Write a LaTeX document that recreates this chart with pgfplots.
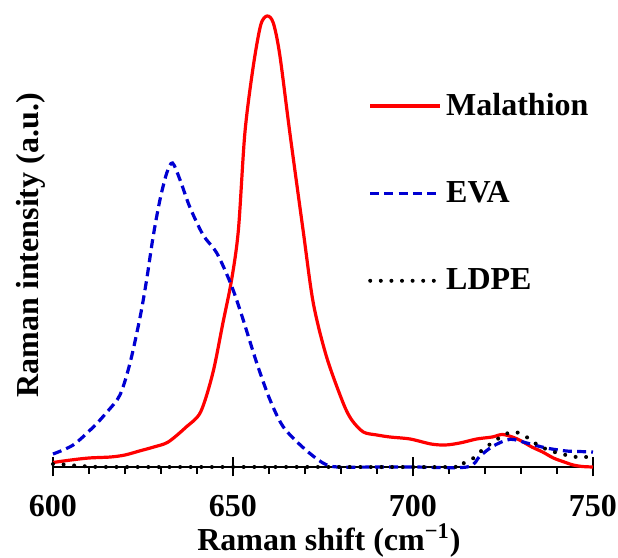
\documentclass[border=0pt]{standalone}
\usepackage{fontspec}
\setmainfont{Liberation Serif}
\usepackage{pgfplots}
\pgfplotsset{compat=1.18}
\definecolor{evablue}{RGB}{0,0,210}
\begin{document}
\begin{tikzpicture}
\begin{axis}[
  scale only axis,
  width=270pt, height=231pt,
  xmin=600, xmax=750, ymin=0, ymax=462,
  clip=false,
  axis x line*=bottom, axis y line*=left,
  y axis line style={draw=none},
  x axis line style={line width=0.8pt,-},
  ytick=\empty,
  xtick={600,650,700,750},
  minor x tick num=4,
  tick align=center,
  major tick length=9.5pt,
  minor tick length=3.5pt,
  major tick style={line width=0.8pt,black},
  minor tick style={line width=0.8pt,black,yshift=-1.75pt},
  xticklabel style={font=\fontsize{16}{19}\selectfont\bfseries, inner sep=0pt, yshift=-9pt},
  /pgf/number format/assume math mode=true,
  xlabel={Raman shift (cm\textsuperscript{\textminus 1})},
  ylabel={Raman intensity (a.u.)},
  xlabel style={font=\fontsize{16}{19}\selectfont\bfseries, at={(axis description cs:0.511,-0.121)}, anchor=north, inner sep=0pt},
  ylabel style={font=\fontsize{16}{19}\selectfont\bfseries, at={(axis description cs:-0.013,0.48)}, anchor=south, inner sep=0pt},
  legend style={draw=none, fill=none, at={(axis description cs:0.583,0.818)}, anchor=north west,
    font=\fontsize{16}{19}\selectfont\bfseries, row sep=27.5pt, inner sep=0pt},
  legend cell align=left,
  legend image code/.code={\draw[#1] (0pt,0pt) -- (35pt,0pt);},
]
\coordinate (O) at (rel axis cs:0,0);
\addplot[red, line width=1.6pt, smooth, tension=0.5] coordinates {
(600,4.5) (605,7) (610,9) (616,10) (620,12) (624,16) (628,20) (632,25) (637,40)
(641,55) (644.4,94) (647.2,144) (649.6,187) (651.5,237) (653.3,334) (655.6,400)
(657.7,442) (659.5,451) (661.2,444) (663,412) (665.8,334) (669.5,236) (672.3,164)
(676,110) (680.6,64) (683,47) (686.2,35) (690,32) (693.6,30) (699.2,28) (705,23)
(709,22) (713,24) (717.7,28) (722,30) (725,32.5) (729,28) (733,20) (736,15)
(739,9) (742,5) (744.5,2) (747,0.5) (750,0)
};
\addlegendentry{Malathion}
\addplot[evablue, line width=1.6pt, dash pattern=on 4.5pt off 2.6pt, smooth, tension=0.5] coordinates {
(600,13) (605.6,22) (611.2,40) (615,55) (618.6,72) (621.4,104) (624.2,150) (626,187)
(627.8,230) (629.7,267) (631.6,294) (633.2,304) (635.3,287) (638,260) (641.7,232)
(645.5,214) (649.4,183) (652.4,152) (656.6,104) (660.3,67) (664,40) (669.6,19)
(675,4) (679,0) (690,0) (700,0) (715,0) (718.6,11) (722.3,21) (727,27.7) (731.6,24)
(737,19) (742.6,16) (746,15.5) (750,15)
};
\addlegendentry{EVA}
\addplot[black, line width=2pt, dash pattern=on 0pt off 5.3pt, line cap=round, smooth, tension=0.5] coordinates {
(600,3) (603,2.5) (606,1.5) (610,0.5) (615,0) (650,0) (680,0) (710,0) (712.6,1)
(714,3.7) (716.7,8.7) (718.6,15) (721,21.7) (723.4,27.7) (725.7,33) (728.4,35)
(731.1,31) (733.4,25) (735.7,20) (738.4,16) (741.2,13) (744,11) (746.7,9.3)
(749.4,11) (750,11)
};
\addlegendentry{LDPE}
\end{axis}
\pgfresetboundingbox
\path[use as bounding box] ([shift={(-26.5pt,-45.5pt)}]O) rectangle ([shift={(282.5pt,233.5pt)}]O);
\end{tikzpicture}
\end{document}
